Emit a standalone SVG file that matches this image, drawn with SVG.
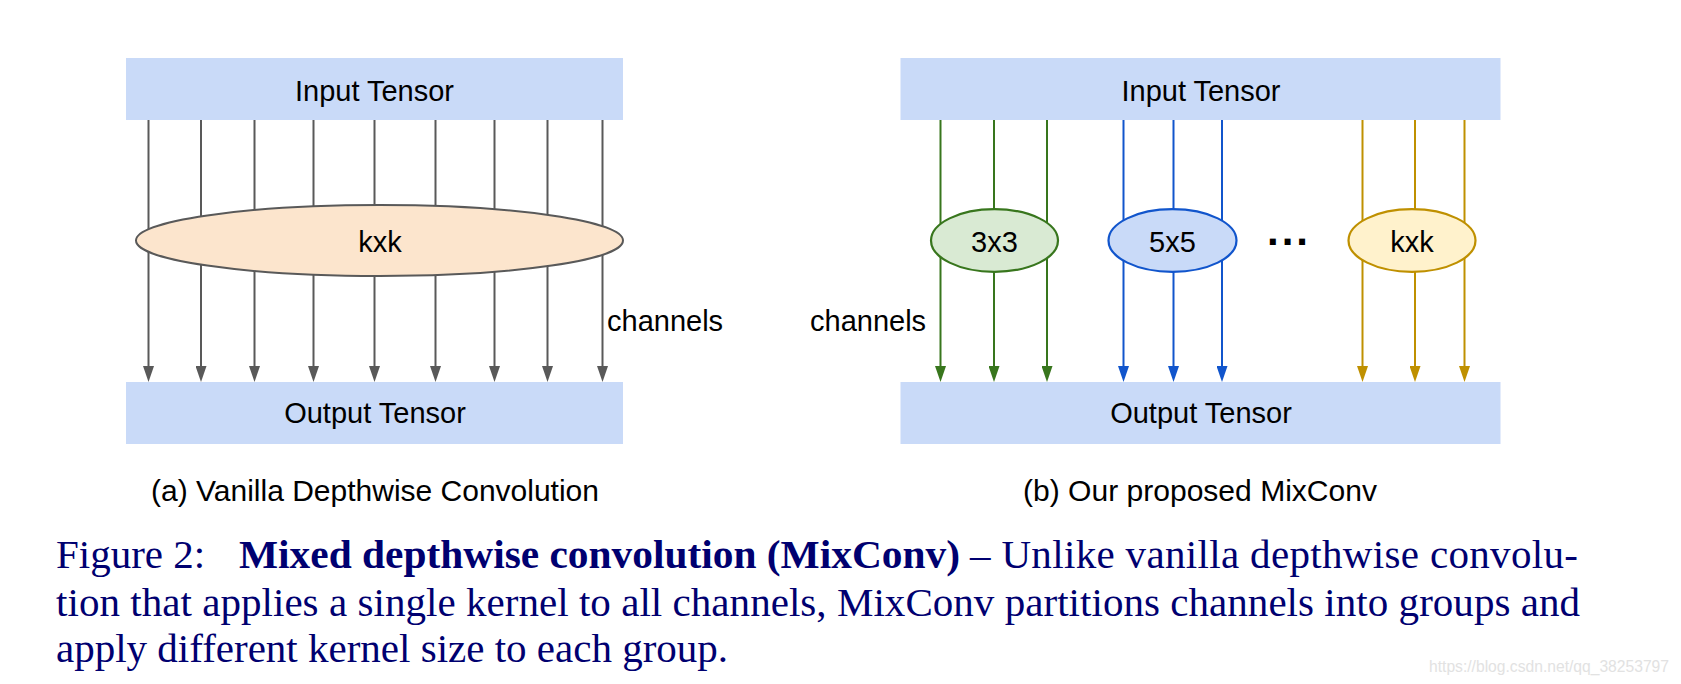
<svg xmlns="http://www.w3.org/2000/svg" width="1681" height="684" viewBox="0 0 1681 684">
  <style>
    .box { fill: #c9daf8; stroke: none; }
    .lbl { font-family: "Liberation Sans", Arial, sans-serif; font-size: 29px; fill: #000000; text-anchor: middle; }
    .side { font-family: "Liberation Sans", Arial, sans-serif; font-size: 29px; fill: #000000; }
    .cap { font-family: "Liberation Sans", Arial, sans-serif; font-size: 30px; fill: #000000; }
    .body { font-family: "Liberation Serif", "Times New Roman", serif; font-size: 41px; fill: #000070; }
    .bold { font-weight: bold; }
    .gray { stroke: #595959; stroke-width: 2; fill: none; }
    .green { stroke: #38761d; stroke-width: 2; fill: none; }
    .blue { stroke: #1155cc; stroke-width: 2; fill: none; }
    .gold { stroke: #bf9000; stroke-width: 2; fill: none; }
    .wm { font-family: "Liberation Sans", Arial, sans-serif; font-size: 16px; fill: #e2e2e2; }
  </style>
  <defs>
    <marker id="ah-gray" markerUnits="userSpaceOnUse" markerWidth="16" markerHeight="11" refX="0" refY="5.5" orient="auto" viewBox="0 0 16 11">
      <path d="M0,0 L16,5.5 L0,11 z" fill="#595959"/>
    </marker>
    <marker id="ah-green" markerUnits="userSpaceOnUse" markerWidth="16" markerHeight="11" refX="0" refY="5.5" orient="auto" viewBox="0 0 16 11">
      <path d="M0,0 L16,5.5 L0,11 z" fill="#38761d"/>
    </marker>
    <marker id="ah-blue" markerUnits="userSpaceOnUse" markerWidth="16" markerHeight="11" refX="0" refY="5.5" orient="auto" viewBox="0 0 16 11">
      <path d="M0,0 L16,5.5 L0,11 z" fill="#1155cc"/>
    </marker>
    <marker id="ah-gold" markerUnits="userSpaceOnUse" markerWidth="16" markerHeight="11" refX="0" refY="5.5" orient="auto" viewBox="0 0 16 11">
      <path d="M0,0 L16,5.5 L0,11 z" fill="#bf9000"/>
    </marker>
  </defs>
  <rect width="1681" height="684" fill="#ffffff"/>

  <!-- Connectors -->
  <g id="connectors">
    <g class="gray" marker-end="url(#ah-gray)">
      <line x1="148.5" y1="120" x2="148.5" y2="366"/>
      <line x1="201" y1="120" x2="201" y2="366"/>
      <line x1="254.5" y1="120" x2="254.5" y2="366"/>
      <line x1="313.5" y1="120" x2="313.5" y2="366"/>
      <line x1="374.5" y1="120" x2="374.5" y2="366"/>
      <line x1="435.5" y1="120" x2="435.5" y2="366"/>
      <line x1="494.5" y1="120" x2="494.5" y2="366"/>
      <line x1="547.5" y1="120" x2="547.5" y2="366"/>
      <line x1="602.5" y1="120" x2="602.5" y2="366"/>
    </g>
    <g class="green" marker-end="url(#ah-green)">
      <line x1="940.5" y1="120" x2="940.5" y2="366"/>
      <line x1="994" y1="120" x2="994" y2="366"/>
      <line x1="1047" y1="120" x2="1047" y2="366"/>
    </g>
    <g class="blue" marker-end="url(#ah-blue)">
      <line x1="1123.5" y1="120" x2="1123.5" y2="366"/>
      <line x1="1173.5" y1="120" x2="1173.5" y2="366"/>
      <line x1="1222" y1="120" x2="1222" y2="366"/>
    </g>
    <g class="gold" marker-end="url(#ah-gold)">
      <line x1="1362.5" y1="120" x2="1362.5" y2="366"/>
      <line x1="1415" y1="120" x2="1415" y2="366"/>
      <line x1="1464.5" y1="120" x2="1464.5" y2="366"/>
    </g>
  </g>

  <!-- Left diagram nodes -->
  <g id="a-input">
    <rect class="box" x="126" y="58" width="497" height="62"/>
    <text class="lbl" x="374.5" y="101">Input Tensor</text>
  </g>
  <g id="a-kernel">
    <ellipse cx="379.5" cy="240.5" rx="243.5" ry="35.5" fill="#fce5cd" stroke="#595959" stroke-width="2"/>
    <text class="lbl" x="380" y="251.5">kxk</text>
  </g>
  <g id="a-output">
    <rect class="box" x="126" y="382" width="497" height="62"/>
    <text class="lbl" x="375" y="423">Output Tensor</text>
  </g>
  <text class="side" x="607" y="331">channels</text>

  <!-- Right diagram nodes -->
  <g id="b-input">
    <rect class="box" x="900.5" y="58" width="600" height="62"/>
    <text class="lbl" x="1201" y="101">Input Tensor</text>
  </g>
  <g id="b-k3">
    <ellipse cx="994.5" cy="240.5" rx="63.5" ry="31.3" fill="#d9ead3" stroke="#38761d" stroke-width="2.2"/>
    <text class="lbl" x="994.5" y="251.5">3x3</text>
  </g>
  <g id="b-k5">
    <ellipse cx="1172.5" cy="240.5" rx="64" ry="31.3" fill="#c9daf8" stroke="#1155cc" stroke-width="2.2"/>
    <text class="lbl" x="1172.5" y="251.5">5x5</text>
  </g>
  <g id="b-dots">
    <text class="side" x="1267" y="245" style="font-size:42px; font-weight:bold; letter-spacing:3px;">...</text>
  </g>
  <g id="b-kk">
    <ellipse cx="1412" cy="240.5" rx="63.5" ry="31.3" fill="#fff2cc" stroke="#bf9000" stroke-width="2.2"/>
    <text class="lbl" x="1412" y="251.5">kxk</text>
  </g>
  <g id="b-output">
    <rect class="box" x="900.5" y="382" width="600" height="62"/>
    <text class="lbl" x="1201" y="423">Output Tensor</text>
  </g>
  <text class="side" x="810" y="331">channels</text>

  <!-- Sub-captions -->
  <text class="cap" x="151" y="501" textLength="448" lengthAdjust="spacingAndGlyphs">(a) Vanilla Depthwise Convolution</text>
  <text class="cap" x="1023" y="501" textLength="354" lengthAdjust="spacingAndGlyphs">(b) Our proposed MixConv</text>

  <!-- Figure caption -->
  <text class="body" x="56" y="568">Figure 2:</text>
  <text class="body bold" x="239" y="568" textLength="721" lengthAdjust="spacingAndGlyphs">Mixed depthwise convolution (MixConv)</text>
  <text class="body" x="970" y="568" textLength="608" lengthAdjust="spacing">– Unlike vanilla depthwise convolu-</text>
  <text class="body" x="56" y="616" textLength="1524" lengthAdjust="spacing">tion that applies a single kernel to all channels, MixConv partitions channels into groups and</text>
  <text class="body" x="56" y="662">apply different kernel size to each group.</text>

  <!-- Watermark -->
  <text class="wm" x="1429" y="671.5" textLength="240" lengthAdjust="spacingAndGlyphs">https://blog.csdn.net/qq_38253797</text>
</svg>
